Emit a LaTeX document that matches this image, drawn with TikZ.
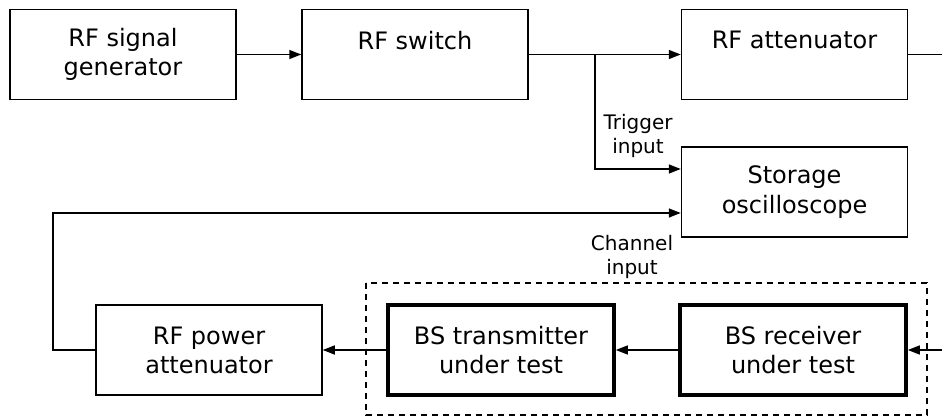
\documentclass[tikz,border=0pt]{standalone}
\usepackage{fontspec}
\setmainfont{DejaVu Sans}
\usetikzlibrary{arrows.meta,calc}

\begin{document}
\begin{tikzpicture}[x=1pt, y=-1pt, >={Triangle[length=12pt,width=9pt]},
        box/.style={draw, line width=1.5pt, minimum width=226pt, minimum height=90pt, inner sep=0pt, align=center, font=\fontsize{24}{29}\selectfont},
        dutbox/.style={box, line width=3.6pt},
        wire/.style={line width=1.5pt},
        lbl/.style={align=center, font=\fontsize{20}{24}\selectfont}]
        \useasboundingbox (0,0) rectangle (942,419);

        % Top row: generator, switch, attenuator
        \node[box] (gen) at (123,54.5) {RF signal\\generator};
        \node[box] (sw) at (415,54.5) {RF switch\\\mbox{}};
        \node[box] (att) at (794.5,54.5) {RF attenuator\\\mbox{}};
        \coordinate (rfout) at (942,54.5);

        % Oscilloscope with its two inputs
        \node[box] (osc) at (794.5,192) {Storage\\[1pt]oscilloscope};
        \node[lbl] (trig) at (638,136) {Trigger\\input};
        \node[lbl] (chan) at (632,257) {Channel\\input};

        % Bottom row: power attenuator and the BS under test
        \node[box] (pwr) at (209,350) {RF power\\attenuator};
        \node[dutbox] (tx) at (501,350) {BS transmitter\\under test};
        \node[dutbox] (rx) at (793,350) {BS receiver\\under test};
        \draw[line width=1.2pt, dash pattern=on 6pt off 5pt] (366,283) rectangle (927,415);
        \coordinate (rfin) at (942,350);

        % Connections
        \draw[wire, ->] (gen.east) -- (sw.west);
        \draw[wire, ->] (sw.east) -- coordinate[pos=0.436] (tap) (att.west);
        \draw[wire] (att.east) -- (rfout);
        \draw[wire, ->] (tap) |- ($(osc.west)+(0,-23)$);

        \coordinate (loop) at (53,213);
        \draw[wire, ->] (pwr.west) -| (loop) -- ($(osc.west)+(0,21)$);

        \draw[wire, ->] (rfin) -- (rx.east);
        \draw[wire, ->] (rx.west) -- (tx.east);
        \draw[wire, ->] (tx.west) -- (pwr.east);
    \end{tikzpicture}
\end{document}
